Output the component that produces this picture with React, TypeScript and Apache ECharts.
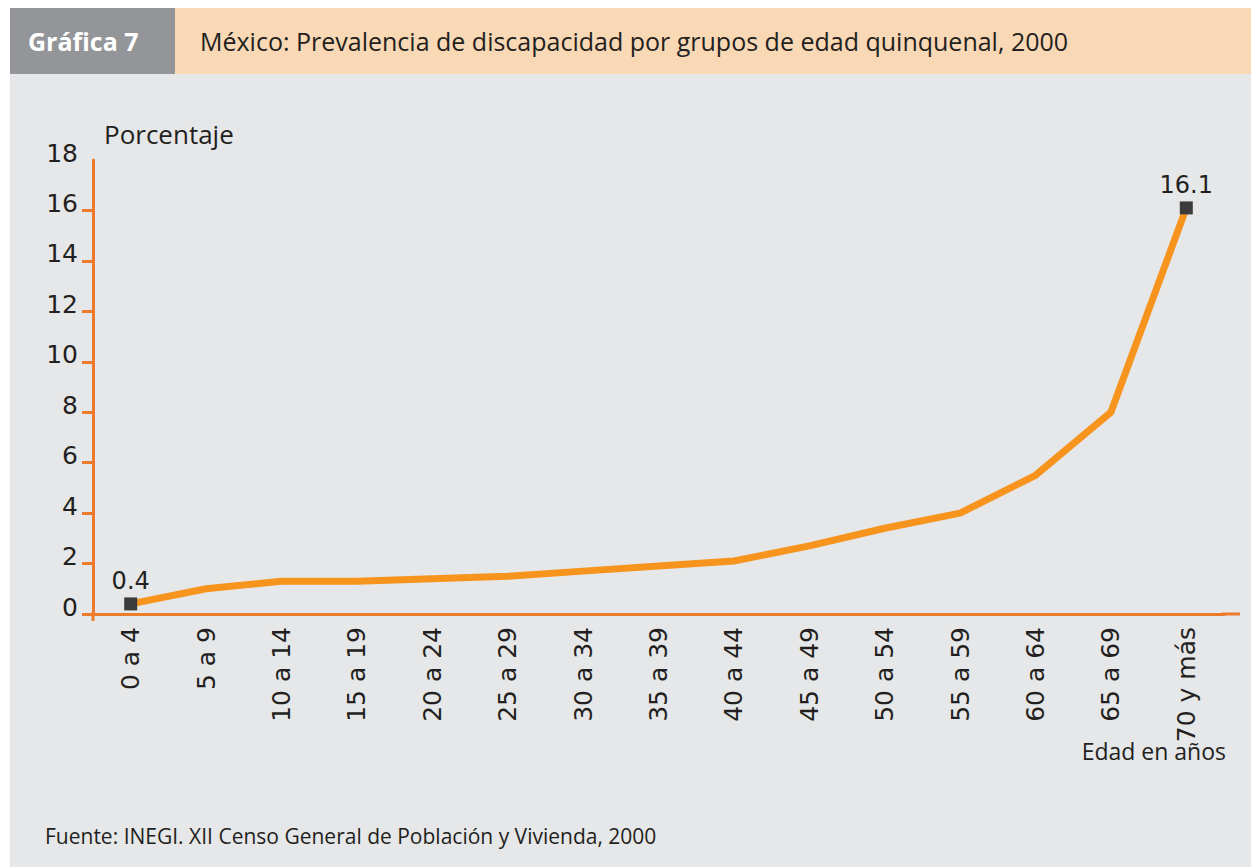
import React, { useEffect, useRef } from "react";
import * as echarts from "echarts";

const categories = [
  "0 a 4", "5 a 9", "10 a 14", "15 a 19", "20 a 24", "25 a 29", "30 a 34",
  "35 a 39", "40 a 44", "45 a 49", "50 a 54", "55 a 59", "60 a 64", "65 a 69", "70 y más",
];
const prevalence = [0.4, 1.0, 1.3, 1.3, 1.4, 1.5, 1.7, 1.9, 2.1, 2.7, 3.4, 4.0, 5.5, 8.0, 16.1];
const yTickValues = [0, 2, 4, 6, 8, 10, 12, 14, 16];
const yLabelValues = [0, 2, 4, 6, 8, 10, 12, 14, 16, 18];
const labelledIndexes = [0, 14];

const headerLabel = "Gráfica 7";
const titleText = "México: Prevalencia de discapacidad por grupos de edad quinquenal, 2000";
const yName = "Porcentaje";
const xName = "Edad en años";
const sourceText = "Fuente: INEGI. XII Censo General de Población y Vivienda, 2000";

const ORANGE_LINE = "#F7941D";
const ORANGE_AXIS = "#EC7B2B";
const TEXT = "#231F20";
const DIGIT_FONT = "DejaVu Sans";
const TEXT_FONT = "Open Sans";

export default function App() {
  const ref = useRef<HTMLDivElement>(null);
  useEffect(() => {
    document.body.style.margin = "0";
    const chart = echarts.init(ref.current!, null, { renderer: "svg" });
    const data = prevalence.map((v, i) =>
      labelledIndexes.includes(i)
        ? {
            value: v,
            symbol: "rect",
            symbolSize: 13,
            itemStyle: { color: "#3B3B3B" },
            label: {
              show: true,
              position: "top",
              distance: 4,
              formatter: (p: any) => Number(p.value).toFixed(1),
              fontFamily: DIGIT_FONT,
              fontSize: 24,
              color: TEXT,
            },
          }
        : { value: v, symbol: "none" }
    );
    chart.setOption({
      animation: false,
      backgroundColor: "#ffffff",
      graphic: [
        { type: "rect", shape: { x: 10, y: 74, width: 1241, height: 793 }, style: { fill: "#E6E7E8" }, z: -10 },
        { type: "rect", shape: { x: 10, y: 8, width: 165, height: 66 }, style: { fill: "#939598" }, z: -10 },
        { type: "rect", shape: { x: 175, y: 8, width: 1076, height: 66 }, style: { fill: "#F9D8B5" }, z: -10 },
        {
          type: "text", x: 28, y: 41,
          style: { text: headerLabel, fill: "#ffffff", font: `bold 25px "${TEXT_FONT}"`, textVerticalAlign: "middle" },
        },
        {
          type: "text", x: 200, y: 41,
          style: { text: titleText, fill: TEXT, font: `500 25px "${TEXT_FONT}"`, textVerticalAlign: "middle" },
        },
        {
          type: "text", x: 104, y: 134,
          style: { text: yName, fill: TEXT, font: `26px "${TEXT_FONT}"`, textVerticalAlign: "middle" },
        },
        {
          type: "text", x: 1226, y: 751,
          style: { text: xName, fill: TEXT, font: `23px "${TEXT_FONT}"`, textAlign: "right", textVerticalAlign: "middle" },
        },
        {
          type: "text", x: 45, y: 836,
          style: { text: sourceText, fill: TEXT, font: `21px "${TEXT_FONT}"`, textVerticalAlign: "middle" },
        },
        { type: "line", shape: { x1: 1222, y1: 614, x2: 1240, y2: 614 }, style: { stroke: ORANGE_AXIS, lineWidth: 3 } },
        { type: "line", shape: { x1: 93, y1: 612, x2: 93, y2: 621 }, style: { stroke: ORANGE_AXIS, lineWidth: 3 } },
      ],
      grid: { left: 93, right: 27, top: 160, bottom: 253, containLabel: false },
      xAxis: {
        type: "category",
        data: categories,
        boundaryGap: true,
        axisLine: { show: true, lineStyle: { color: ORANGE_AXIS, width: 3 } },
        axisTick: { show: false },
        axisLabel: {
          rotate: 90,
          interval: 0,
          margin: 13,
          fontFamily: DIGIT_FONT,
          fontSize: 25,
          color: TEXT,
        },
      },
      yAxis: {
        type: "value",
        min: 0,
        max: 18,
        interval: 2,
        axisLine: { show: true, lineStyle: { color: ORANGE_AXIS, width: 3 } },
        axisTick: { show: true, length: 11, lineStyle: { color: ORANGE_AXIS, width: 3 }, customValues: yTickValues },
        axisLabel: {
          margin: 15,
          fontFamily: DIGIT_FONT,
          fontSize: 25,
          color: TEXT,
          verticalAlign: "bottom",
          lineHeight: 14,
          customValues: yLabelValues,
        },
        splitLine: { show: false },
      },
      series: [
        {
          type: "line",
          data,
          lineStyle: { color: ORANGE_LINE, width: 7 },
          itemStyle: { color: ORANGE_LINE },
          z: 3,
        },
      ],
    });
    return () => chart.dispose();
  }, []);
  return <div ref={ref} style={{ width: 1251, height: 867 }} />;
}
